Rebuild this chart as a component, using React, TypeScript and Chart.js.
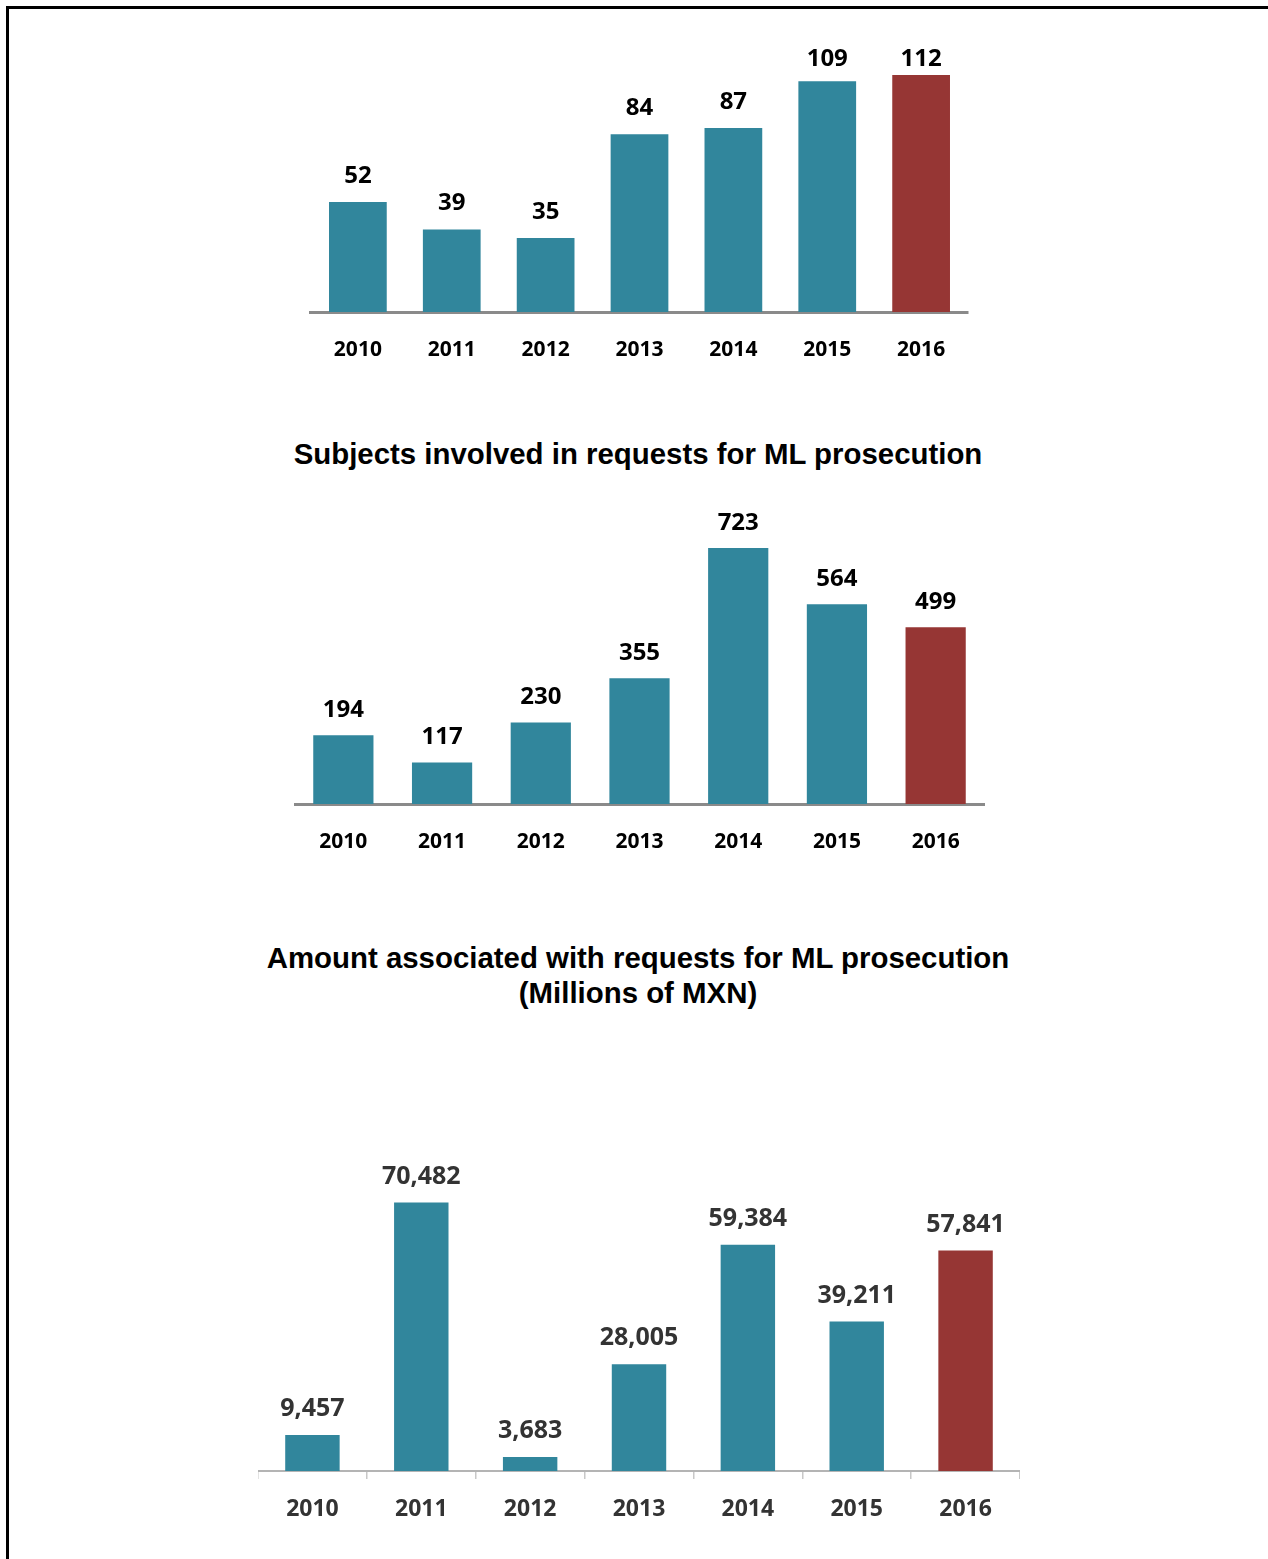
import React, { useEffect, useRef } from "react";
import { Chart, registerables } from "chart.js";

Chart.register(...registerables);

const years = ["2010", "2011", "2012", "2013", "2014", "2015", "2016"];
const requestsValues = [52, 39, 35, 84, 87, 109, 112];
const subjectsValues = [194, 117, 230, 355, 723, 564, 499];
const amountValues = [9457, 70482, 3683, 28005, 59384, 39211, 57841];

const TEAL = "#31869C";
const RED = "#963634";
const barColors = [TEAL, TEAL, TEAL, TEAL, TEAL, TEAL, RED];

type BarProps = {
  labels: string[];
  values: number[];
  left: number;
  top: number;
  width: number;
  height: number;
  yMax: number;
  axisHeight: number;
  barPct: number;
  axisColor: string;
  axisWidth: number;
  tickMarks: boolean;
  tickFont: number;
  tickColor: string;
  tickPadding: number;
  labelFont: number;
  labelColor: string;
  labelOffset: number;
  labelMinY: number;
  useCommas: boolean;
};

function BarChart(p: BarProps) {
  const ref = useRef<HTMLCanvasElement | null>(null);
  useEffect(() => {
    if (!ref.current) return;
    const valueLabels = {
      id: "valueLabels",
      afterDatasetsDraw(chart: any) {
        const ctx = chart.ctx;
        const meta = chart.getDatasetMeta(0);
        ctx.save();
        ctx.fillStyle = p.labelColor;
        ctx.font = `bold ${p.labelFont}px "Open Sans", sans-serif`;
        ctx.textAlign = "center";
        ctx.textBaseline = "middle";
        meta.data.forEach((el: any, i: number) => {
          const v = p.values[i];
          const txt = p.useCommas ? v.toLocaleString("en-US") : String(v);
          const y = Math.max(el.y - p.labelOffset, chart.chartArea.top + p.labelMinY);
          ctx.fillText(txt, el.x, y);
        });
        ctx.restore();
      },
    };
    const chart = new Chart(ref.current, {
      type: "bar",
      data: {
        labels: p.labels,
        datasets: [
          {
            data: p.values,
            backgroundColor: barColors,
            borderWidth: 0,
            barPercentage: p.barPct,
            categoryPercentage: 1,
          },
        ],
      },
      options: {
        responsive: false,
        animation: false,
        maintainAspectRatio: false,
        layout: { padding: 0 },
        plugins: {
          legend: { display: false },
          tooltip: { enabled: false },
          title: { display: false },
        },
        scales: {
          x: {
            afterFit: (scale: any) => {
              scale.height = p.axisHeight;
            },
            grid: {
              display: p.tickMarks,
              drawOnChartArea: false,
              drawTicks: p.tickMarks,
              tickLength: 8,
              color: "#c8c8c8",
              lineWidth: 1.5,
            },
            border: { display: true, color: p.axisColor, width: p.axisWidth },
            ticks: {
              color: p.tickColor,
              padding: p.tickPadding,
              font: { family: '"Open Sans", sans-serif', size: p.tickFont, weight: "bold" },
            },
          },
          y: {
            display: false,
            min: 0,
            max: p.yMax,
          },
        },
      },
      plugins: [valueLabels],
    });
    return () => chart.destroy();
  }, []);
  return (
    <canvas
      ref={ref}
      width={p.width}
      height={p.height}
      style={{ position: "absolute", left: p.left, top: p.top, width: p.width, height: p.height }}
    />
  );
}

const titleStyle: React.CSSProperties = {
  position: "absolute",
  left: 0,
  width: 1276,
  textAlign: "center",
  fontFamily: '"Liberation Sans", Arial, sans-serif',
  fontWeight: "bold",
  fontSize: 29.4,
  color: "#000",
};

export default function App() {
  return (
    <div
      style={{
        position: "absolute",
        left: 0,
        top: 0,
        width: 1268,
        height: 1559,
        background: "#fff",
        overflow: "hidden",
      }}
    >
      <div
        style={{
          position: "absolute",
          left: 6,
          top: 6,
          width: 1262,
          height: 1553,
          borderTop: "3px solid #000",
          borderLeft: "3px solid #000",
          boxSizing: "border-box",
        }}
      />
      <BarChart
        labels={years}
        values={requestsValues}
        left={309}
        top={20}
        width={661}
        height={352}
        yMax={138}
        axisHeight={60}
        barPct={0.615}
        axisColor="#8a8a8a"
        axisWidth={3}
        tickMarks={false}
        tickFont={21}
        tickColor="#000"
        tickPadding={25}
        labelFont={24}
        labelColor="#000"
        labelOffset={26}
        labelMinY={39}
        useCommas={false}
      />
      <div style={{ ...titleStyle, top: 437, lineHeight: "34px" }}>
        Subjects involved in requests for ML prosecution
      </div>
      <BarChart
        labels={years}
        values={subjectsValues}
        left={294}
        top={480}
        width={691}
        height={384}
        yMax={915}
        axisHeight={60}
        barPct={0.61}
        axisColor="#8a8a8a"
        axisWidth={3}
        tickMarks={false}
        tickFont={21}
        tickColor="#000"
        tickPadding={25}
        labelFont={24}
        labelColor="#000"
        labelOffset={25}
        labelMinY={0}
        useCommas={false}
      />
      <div style={{ ...titleStyle, top: 940, lineHeight: "35px" }}>
        Amount associated with requests for ML prosecution
        <br />
        (Millions of MXN)
      </div>
      <BarChart
        labels={years}
        values={amountValues}
        left={258}
        top={1130}
        width={762}
        height={401}
        yMax={89500}
        axisHeight={60}
        barPct={0.5}
        axisColor="#b4b4b4"
        axisWidth={2}
        tickMarks={true}
        tickFont={23}
        tickColor="#333"
        tickPadding={17}
        labelFont={25}
        labelColor="#333"
        labelOffset={26}
        labelMinY={0}
        useCommas={true}
      />
    </div>
  );
}
